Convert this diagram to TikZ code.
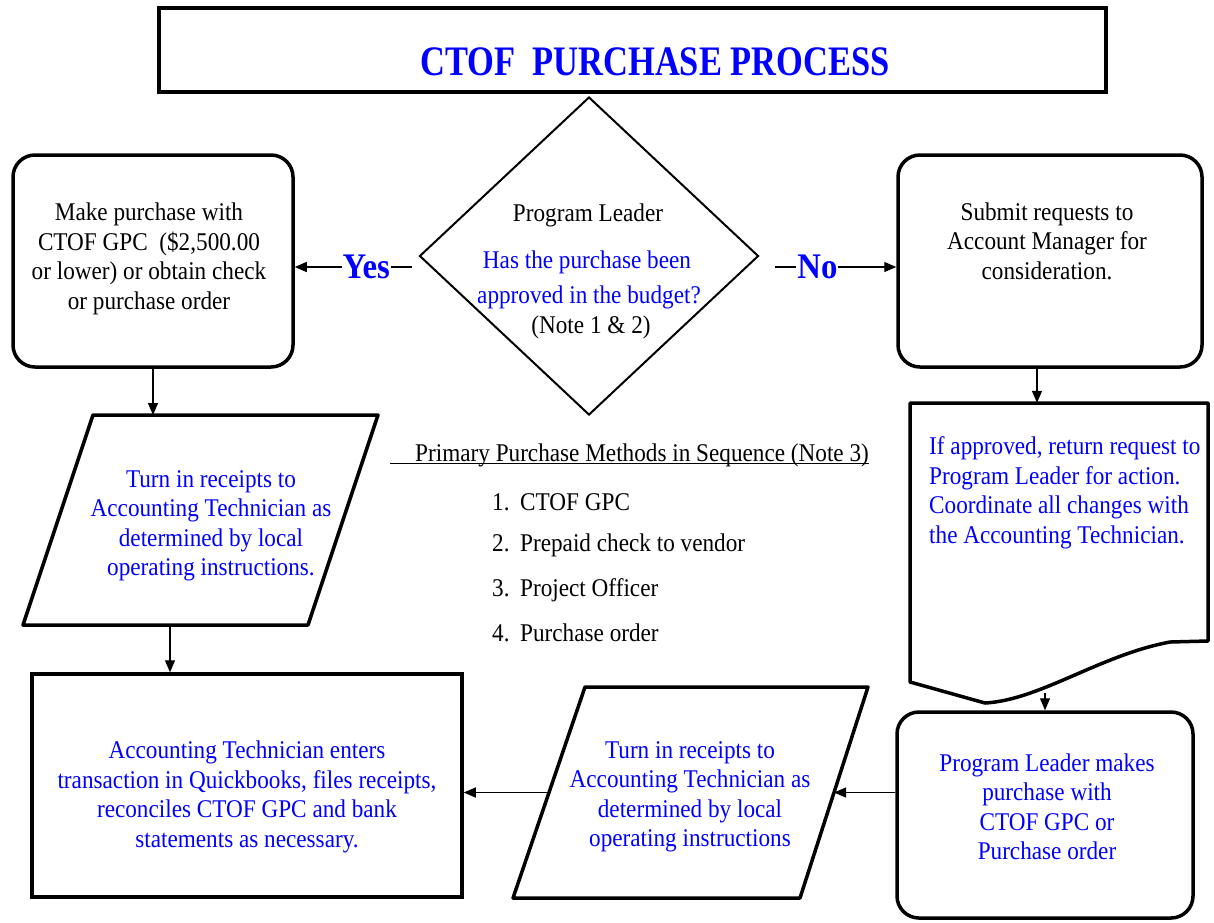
\documentclass[tikz,border=0pt]{standalone}
\usepackage{fontspec}
\setmainfont{Liberation Serif}[FakeStretch=0.91]
\newfontfamily\titlefont{Liberation Serif}[FakeStretch=0.82]
\usetikzlibrary{shapes.geometric,arrows.meta}
\begin{document}
\begin{tikzpicture}[x=1pt,y=-1pt,
  thickbox/.style={draw, line width=3.5pt, inner sep=0pt},
  rbox/.style={thickbox, rounded corners=22pt},
  shapeline/.style={line width=3.5pt, line join=round},
  txt/.style={font=\fontsize{25.5}{29.5}\selectfont, align=center, inner sep=0pt},
  btxt/.style={txt, text=blue},
  arr/.style={line width=1.3pt, -{Triangle[length=12pt,width=10pt]}},
  lab/.style={font=\fontsize{36}{36}\selectfont\bfseries, text=blue, fill=white, inner sep=1pt}
]
\useasboundingbox (0,0) rectangle (1214,922);

% title
\node[thickbox, line width=4.5pt, minimum width=947pt, minimum height=84pt] (title) at (632.5,50) {};
\node[inner sep=0pt, text=blue, font=\titlefont\bfseries\fontsize{42}{42}\selectfont] (titletext) at (655,62) {CTOF~~PURCHASE PROCESS};

% decision
\node[draw, line width=2pt, diamond, minimum width=339pt, minimum height=318pt, inner sep=0pt] (dia) at (589,256) {};
\node[txt] (q0) at (588,215) {Program Leader};
\node[btxt] (q1) at (587,262) {Has the purchase been};
\node[btxt] (q2) at (589,297) {approved in the budget?};
\node[txt] (q3) at (591,327) {(Note 1 \& 2)};

% left top box
\node[rbox, minimum width=280pt, minimum height=212pt] (b1) at (153,261) {};
\node[txt] (b1t) at (149,259) {Make purchase with\\CTOF GPC~ (\$2,500.00\\or lower) or obtain check\\or purchase order};

% right top box
\node[rbox, minimum width=304pt, minimum height=212pt] (b2) at (1050,261) {};
\node[txt] (b2t) at (1047,241) {Submit requests to\\Account Manager for\\consideration.};

% document shape
\draw[shapeline] (910,403) -- (1208,403) -- (1208,641) -- (1170,642) .. controls (1100,655) and (1040,700) .. (985,703) -- (910,682) -- cycle;
\node[minimum width=298pt, minimum height=274pt, inner sep=0pt] (doc) at (1059,540) {};
\node[btxt, align=left, anchor=west] (doct) at (929,493) {If approved, return request to\\Program Leader for action.\\Coordinate all changes with\\the Accounting Technician.};

% right bottom box
\node[rbox, minimum width=296pt, minimum height=206pt] (b3) at (1045,815) {};
\node[btxt] (b3t) at (1047,807) {Program Leader makes\\purchase with\\CTOF GPC or\\Purchase order};

% parallelogram 2
\draw[shapeline] (585,687) -- (868,687) -- (800,898) -- (513,898) -- cycle;
\coordinate (p2r) at (834,792.5);
\coordinate (p2l) at (549,792.5);
\node[btxt] (p2t) at (690,797) {Turn in receipts to\\Accounting Technician as\\determined by local\\operating instructions};

% parallelogram 1
\draw[shapeline] (93,415) -- (378,415) -- (308,625) -- (23,625) -- cycle;
\coordinate (p1top) at (153,415);
\coordinate (p1bot) at (170,625);
\node[btxt] (p1t) at (211,526) {Turn in receipts to\\Accounting Technician as\\determined by local\\operating instructions.};

% big box
\node[thickbox, minimum width=430pt, minimum height=223pt] (big) at (247,785.5) {};
\node[btxt] (bigt) at (247,797) {Accounting Technician enters\\transaction in Quickbooks, files receipts,\\reconciles CTOF GPC and bank\\statements as necessary.};

% methods list
\node[txt, anchor=west] (meth) at (415,455) {Primary Purchase Methods in Sequence (Note 3)};
\draw[line width=1.2pt] ([xshift=-25pt,yshift=-2pt]meth.base west) -- ([yshift=-2pt]meth.base east);
\node[txt, anchor=west] (m1) at (492,502) {\makebox[28pt][l]{1.}CTOF GPC};
\node[txt, anchor=west] (m2) at (492,545) {\makebox[28pt][l]{2.}Prepaid check to vendor};
\node[txt, anchor=west] (m3) at (492,590) {\makebox[28pt][l]{3.}Project Officer};
\node[txt, anchor=west] (m4) at (492,633) {\makebox[28pt][l]{4.}Purchase order};

% connectors
\coordinate (ys) at (412,267);
\draw[arr] (ys) -- (ys -| b1.east) node[lab, pos=0.39] {Yes};
\coordinate (ns) at (775,267);
\draw[arr] (ns) -- (ns -| b2.west) node[lab, pos=0.35] {No};

\draw[arr] (b1.south) -- (p1top);
\draw[arr] (p1bot) -- (p1bot |- big.north);

\coordinate (c2) at ([xshift=-13pt]b2.south);
\draw[arr] (c2) -- (c2 |- doc.north);
\coordinate (c3) at ([yshift=-16pt]doc.south);
\draw[arr] (c3 -| b3.north) -- (b3.north);

\draw[arr] (b3.west |- p2r) -- (p2r);
\draw[arr] (p2l) -- (p2l -| big.east);
\end{tikzpicture}
\end{document}
